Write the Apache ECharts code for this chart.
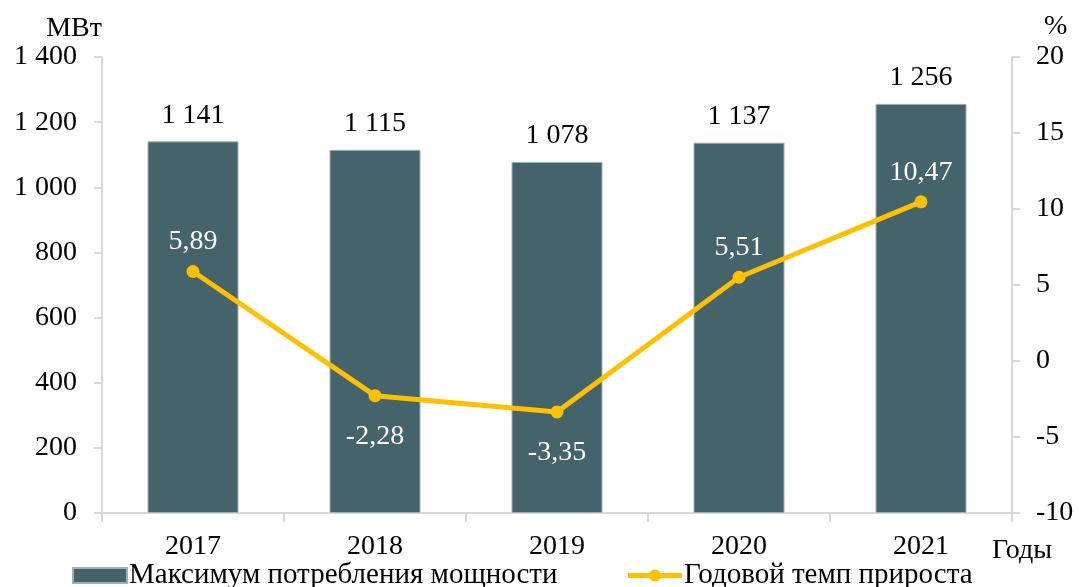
<!DOCTYPE html>
<html>
<head>
<meta charset="utf-8">
<script src="https://cdn.jsdelivr.net/npm/echarts@6/dist/echarts.min.js"></script>
<style>
  html, body { margin: 0; padding: 0; background: #fff; }
  #chart { width: 1079px; height: 587px; }
</style>
</head>
<body>
<div id="chart"></div>
<script>
// данные графика
var years = ['2017', '2018', '2019', '2020', '2021'];
var maxPower = [1141, 1115, 1078, 1137, 1256];
var growthRate = [5.89, -2.28, -3.35, 5.51, 10.47];
var leftTicks = [0, 1400, 200];   // min, max, шаг
var rightTicks = [-10, 20, 5];

var FONT = '"Liberation Serif", "Times New Roman", serif';
var FS = 28;

function fmtThousands(v) {
  return String(v).replace(/\B(?=(\d{3})+(?!\d))/g, ' ');
}
function fmtComma(v) {
  return v.toFixed(2).replace('.', ',');
}

var chart = echarts.init(document.getElementById('chart'));
var option = {
  animation: false,
  textStyle: { fontFamily: FONT },
  grid: { left: 102, right: 67, top: 57, bottom: 74, outerBoundsMode: 'none' },
  legend: {
    bottom: -3,
    left: 72,
    padding: 0,
    itemGap: 68,
    itemWidth: 54,
    itemHeight: 15,
    textStyle: { fontFamily: FONT, fontSize: 29, color: '#000', padding: [0, 0, 0, -3] },
    data: [
      { name: 'Максимум потребления мощности', icon: 'rect' },
      { name: 'Годовой темп прироста', lineStyle: { width: 5 }, itemStyle: { color: '#ffc000' } }
    ]
  },
  xAxis: {
    type: 'category',
    data: years,
    name: 'Годы',
    nameLocation: 'end',
    nameGap: 40,
    nameTextStyle: { fontFamily: FONT, fontSize: FS, color: '#000', align: 'right', verticalAlign: 'top', padding: [24, 0, 0, 0] },
    axisLine: { lineStyle: { color: '#d9d9d9', width: 2 } },
    axisTick: { show: true, length: 9, lineStyle: { color: '#d9d9d9', width: 2 } },
    axisLabel: { fontFamily: FONT, fontSize: FS, color: '#000', margin: 20 }
  },
  yAxis: [
    {
      type: 'value',
      min: leftTicks[0], max: leftTicks[1], interval: leftTicks[2],
      name: 'МВт',
      nameGap: 14,
      nameTextStyle: { fontFamily: FONT, fontSize: FS, color: '#000', align: 'right' },
      axisLine: { show: true, lineStyle: { color: '#d9d9d9', width: 2 } },
      axisTick: { show: true, length: 8, lineStyle: { color: '#d9d9d9', width: 2 } },
      splitLine: { show: false },
      axisLabel: { fontFamily: FONT, fontSize: FS, color: '#000', margin: 25, formatter: fmtThousands }
    },
    {
      type: 'value',
      min: rightTicks[0], max: rightTicks[1], interval: rightTicks[2],
      name: '%',
      nameGap: 16,
      nameTextStyle: { fontFamily: FONT, fontSize: FS, color: '#000', align: 'left', padding: [0, 0, 0, 32] },
      axisLine: { show: true, lineStyle: { color: '#d9d9d9', width: 2 } },
      axisTick: { show: true, length: 8, lineStyle: { color: '#d9d9d9', width: 2 } },
      splitLine: { show: false },
      axisLabel: { fontFamily: FONT, fontSize: FS, color: '#000', margin: 24 }
    }
  ],
  series: [
    {
      name: 'Максимум потребления мощности',
      type: 'bar',
      data: maxPower,
      barWidth: '50%',
      itemStyle: { color: '#44636a', borderColor: '#9fb0b6', borderWidth: 1 },
      label: {
        show: true,
        position: 'top',
        distance: 12,
        fontFamily: FONT,
        fontSize: FS,
        color: '#000',
        formatter: function (p) { return fmtThousands(p.value); }
      }
    },
    {
      name: 'Годовой темп прироста',
      type: 'line',
      yAxisIndex: 1,
      data: growthRate.map(function (v) {
        return {
          value: v,
          label: { position: v < 0 ? 'bottom' : 'top', distance: v < 0 ? 20 : 9 }
        };
      }),
      symbol: 'circle',
      symbolSize: 13,
      lineStyle: { color: '#ffc000', width: 5 },
      itemStyle: { color: '#ffc000' },
      label: {
        show: true,
        fontFamily: FONT,
        fontSize: FS,
        color: '#fff',
        formatter: function (p) { return fmtComma(p.value); }
      },
      z: 5
    }
  ]
};
chart.setOption(option);
</script>
</body>
</html>
